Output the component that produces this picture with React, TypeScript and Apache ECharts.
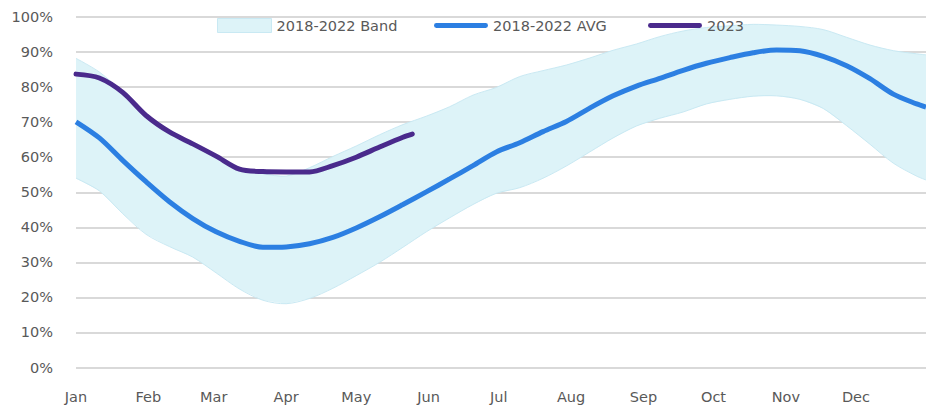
import React, { useEffect, useRef } from "react";
import * as echarts from "echarts";

const months = ["Jan", "Feb", "Mar", "Apr", "May", "Jun", "Jul", "Aug", "Sep", "Oct", "Nov", "Dec"];
const monthStartDays = [0, 31, 59, 90, 120, 151, 181, 212, 243, 273, 304, 334];

// day-of-year sample points for the 2018-2022 band and average
const days = [0, 10, 20, 30, 40, 50, 60, 70, 80, 90, 100, 110, 120, 130, 140, 150, 160, 170, 180, 190,
  200, 210, 220, 230, 240, 250, 260, 270, 280, 290, 300, 310, 320, 330, 340, 350, 360, 364];

const avg = [70.1, 65.5, 59.1, 53, 47.3, 42.5, 38.7, 36, 34.3, 34.4, 35.3, 37.1, 39.8, 43, 46.5, 50.1, 53.8,
  57.6, 61.5, 64.1, 67.3, 70.2, 74, 77.5, 80.3, 82.5, 84.8, 86.8, 88.4, 89.8, 90.6, 90.4, 88.8, 86.1, 82.4, 78,
  75.2, 74.3];

const bandUpper = [88.2, 84.3, 78.5, 71.5, 67, 63.5, 60, 56.5, 55.3, 54.6, 57, 60.2, 63.2, 66.4, 69.3, 71.7,
  74.4, 77.7, 79.9, 83, 84.7, 86.3, 88.3, 90.5, 92.3, 94.4, 96, 97, 97.5, 97.9, 97.7, 97.3, 96.4, 94.2, 92,
  90.4, 89.5, 89.2];

const bandLower = [54, 50.4, 43.9, 38, 34.5, 31.5, 27, 22.4, 19.2, 18.2, 19.7, 22.6, 26.2, 30, 34.3, 38.7,
  42.7, 46.5, 49.7, 51.3, 54, 57.5, 61.5, 65.5, 68.9, 71.1, 72.9, 75.2, 76.5, 77.4, 77.5, 76.5, 73.9, 69,
  63.7, 58.3, 54.6, 53.5];

// 2023 series
const days2023 = [0, 10, 20, 30, 40, 50, 60, 70, 80, 90, 100, 110, 120, 130, 140, 144];
const y2023 = [83.7, 82.6, 78.5, 71.9, 67.2, 63.8, 60.3, 56.6, 55.9, 55.8, 55.8, 57.6, 60, 62.9, 65.7, 66.6];

const yTicks = { min: 0, max: 100, interval: 10 };

const TEXT = "#595959";
const FONT = "DejaVu Sans";
const FS = 14.5;
const BAND_FILL = "#ddf3f8";
const BAND_EDGE = "#c9e9f3";
const BLUE = "#2c7fe2";
const PURPLE = "#4a2a8c";

const capsule = "path://M2.5,0H53.5A2.5,2.5,0,0,1,53.5,5H2.5A2.5,2.5,0,0,1,2.5,0Z";

function legendAt(left: number, item: any) {
  return {
    left,
    top: 18,
    padding: 0,
    itemWidth: 54,
    itemHeight: 14,
    textStyle: { color: TEXT, fontSize: FS, fontFamily: FONT },
    data: [item],
  };
}

export default function App() {
  const ref = useRef<HTMLDivElement>(null);
  useEffect(() => {
    if (!ref.current) return;
    const chart = echarts.init(ref.current, null, { renderer: "svg" });
    chart.setOption({
      animation: false,
      backgroundColor: "#ffffff",
      textStyle: { fontFamily: FONT },
      grid: { left: 76, right: 0, top: 17, bottom: 42.5 },
      legend: [
        legendAt(217, { name: "2018-2022 Band", icon: "rect", itemStyle: { color: BAND_FILL, borderColor: BAND_EDGE, borderWidth: 1 } }),
        legendAt(434, { name: "2018-2022 AVG", icon: capsule, itemStyle: { color: BLUE } }),
        legendAt(648, { name: "2023", icon: capsule, itemStyle: { color: PURPLE } }),
      ],
      xAxis: {
        type: "value",
        min: 0,
        max: 364,
        splitLine: { show: false },
        axisLine: { show: false },
        axisTick: { show: false },
        axisLabel: {
          customValues: monthStartDays,
          formatter: (v: number) => months[monthStartDays.indexOf(v)] ?? "",
          color: TEXT,
          fontSize: FS,
          fontFamily: FONT,
          margin: 22,
        },
      },
      yAxis: {
        type: "value",
        min: yTicks.min,
        max: yTicks.max,
        interval: yTicks.interval,
        axisLine: { show: false },
        axisTick: { show: false },
        splitLine: { lineStyle: { color: "#d9d9d9", width: 2 } },
        axisLabel: { formatter: "{value}%", color: TEXT, fontSize: FS, fontFamily: FONT, margin: 23 },
      },
      series: [
        {
          name: "2018-2022 Band",
          type: "custom",
          color: BAND_FILL,
          data: [0],
          z: 1,
          silent: true,
          renderItem: (_params: any, api: any) => {
            const top = days.map((d, i) => api.coord([d, bandUpper[i]]));
            const bottom = days.map((d, i) => api.coord([d, bandLower[i]])).reverse();
            return {
              type: "group",
              children: [
                {
                  type: "polygon",
                  shape: { points: top.concat(bottom) },
                  style: { fill: BAND_FILL, stroke: null },
                },
                {
                  type: "polyline",
                  shape: { points: top, smooth: 0.3 },
                  style: { fill: null, stroke: BAND_EDGE, lineWidth: 1 },
                },
                {
                  type: "polyline",
                  shape: { points: bottom, smooth: 0.3 },
                  style: { fill: null, stroke: BAND_EDGE, lineWidth: 1 },
                },
              ],
            };
          },
        },
        {
          name: "2018-2022 AVG",
          type: "line",
          smooth: 0.3,
          symbol: "none",
          color: BLUE,
          lineStyle: { color: BLUE, width: 5 },
          data: days.map((d, i) => [d, avg[i]]),
          z: 3,
        },
        {
          name: "2023",
          type: "line",
          smooth: 0.3,
          symbol: "none",
          color: PURPLE,
          lineStyle: { color: PURPLE, width: 5, cap: "round" },
          data: days2023.map((d, i) => [d, y2023[i]]),
          z: 4,
        },
      ],
    });
    return () => chart.dispose();
  }, []);
  return (
    <div
      ref={ref}
      style={{ position: "fixed", left: 0, top: 0, width: 926, height: 410, background: "#fff" }}
    />
  );
}
